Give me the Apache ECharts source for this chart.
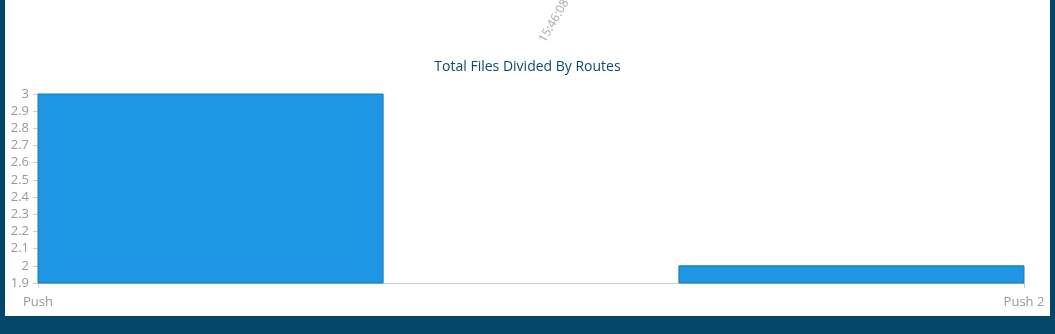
<!DOCTYPE html>
<html>
<head>
<meta charset="utf-8">
<script src="https://cdn.jsdelivr.net/npm/echarts@6/dist/echarts.min.js"></script>
<style>
  html, body { margin: 0; padding: 0; width: 1055px; height: 334px; background: #03466a; overflow: hidden; }
  #chart { position: absolute; left: 5px; top: 0; width: 1045px; height: 316px; background: #ffffff; }
</style>
</head>
<body>
<div id="chart"></div>
<script>
const categories = ['Push', 'Push 2'];
const values = [3, 2];
const yMin = 1.9, yMax = 3, yInterval = 0.1;
const titleText = 'Total Files Divided By Routes';
const stampText = '15:46:08';

const chart = echarts.init(document.getElementById('chart'), null, { renderer: 'canvas' });
chart.setOption({
  animation: false,
  backgroundColor: '#ffffff',
  title: {
    text: titleText,
    left: 'center',
    top: 55,
    textStyle: { fontFamily: 'Open Sans', fontSize: 14, fontWeight: 'normal', color: '#0d4a6f' }
  },
  graphic: [{
    type: 'text',
    x: 549, y: 21,
    rotation: Math.PI / 3,
    style: {
      text: stampText, fill: '#aaaaaa', font: '12px "Open Sans"',
      align: 'center', verticalAlign: 'middle'
    }
  }],
  grid: { left: 33, right: 26, top: 94, bottom: 33, containLabel: false },
  xAxis: {
    type: 'category',
    data: categories,
    boundaryGap: false,
    axisLine: { show: true, lineStyle: { color: '#cccccc', width: 1 } },
    axisTick: { show: true, length: 5, lineStyle: { color: '#cccccc' } },
    axisLabel: { color: '#999999', fontFamily: 'Open Sans', fontSize: 13, margin: 13 },
    splitLine: { show: false }
  },
  yAxis: {
    type: 'value',
    min: yMin, max: yMax, interval: yInterval,
    axisLine: { show: false },
    axisTick: { show: true, length: 5, lineStyle: { color: '#cccccc' } },
    axisLabel: { color: '#999999', fontFamily: 'Open Sans', fontSize: 13, margin: 9,
      formatter: v => String(Math.round(v * 10) / 10) },
    splitLine: { show: false }
  },
  series: [{
    type: 'custom',
    data: values.map((v, i) => [i, v]),
    encode: { x: 0, y: 1 },
    renderItem: function (params, api) {
      const idx = api.value(0);
      const val = api.value(1);
      const top = api.coord([idx, val]);
      const base = api.coord([idx, yMin]);
      const band = api.size([1, 0])[0];
      const w = band * 0.7;
      const cs = params.coordSys;
      const rect = echarts.graphic.clipRectByRect(
        { x: top[0] - w / 2, y: top[1], width: w, height: base[1] - top[1] },
        { x: cs.x, y: cs.y, width: cs.width, height: cs.height }
      );
      if (!rect) return null;
      return {
        type: 'rect',
        shape: rect,
        style: { fill: '#1e96e3', stroke: '#1a78b8', lineWidth: 1 }
      };
    }
  }]
});
</script>
</body>
</html>
